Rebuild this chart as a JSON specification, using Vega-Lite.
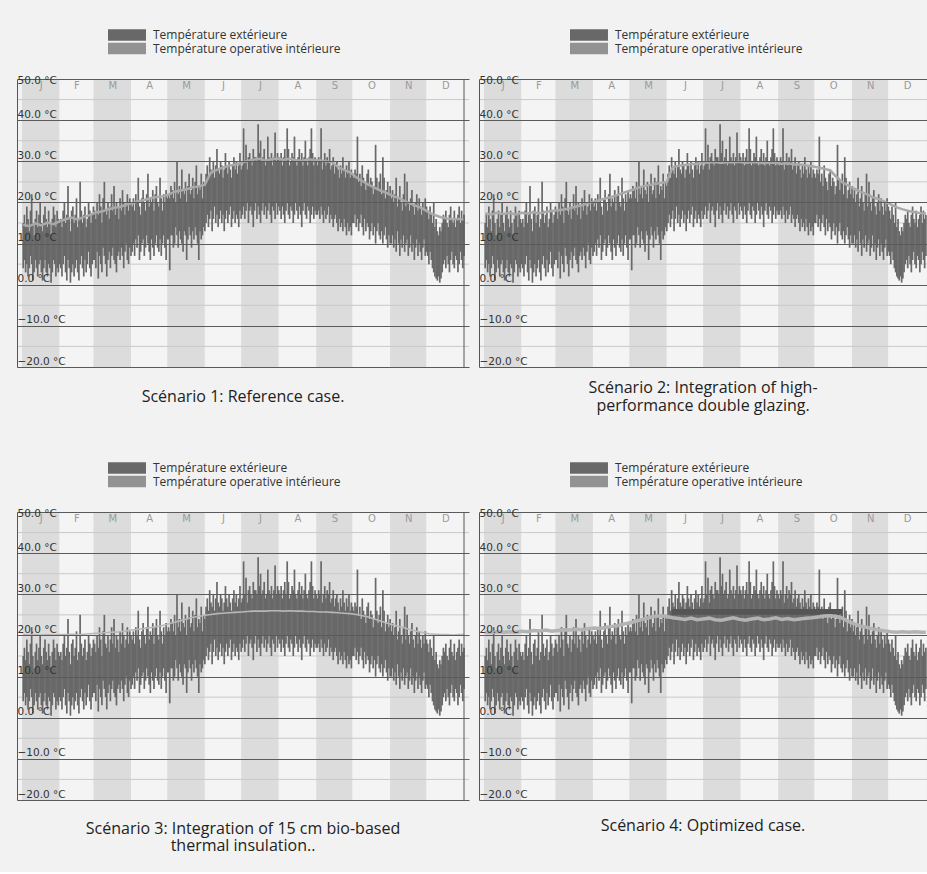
{
"$schema":"https://vega.github.io/schema/vega-lite/v6.json",
"background":"#f2f2f2",
"padding":{"left":16,"top":29,"right":0,"bottom":18},
"config":{"view":{"stroke":null},"title":{"font":"Open Sans","fontSize":16,"fontWeight":"normal","color":"#222222","anchor":"middle","lineHeight":17.5}},
"datasets":{
"months":[{"m":1,"s":0,"e":31},{"m":2,"s":31,"e":59},{"m":3,"s":59,"e":90},{"m":4,"s":90,"e":120},{"m":5,"s":120,"e":151},{"m":6,"s":151,"e":181},{"m":7,"s":181,"e":212},{"m":8,"s":212,"e":243},{"m":9,"s":243,"e":273},{"m":10,"s":273,"e":304},{"m":11,"s":304,"e":334},{"m":12,"s":334,"e":365}],
"minor":[{"t":-15},{"t":-5},{"t":5},{"t":15},{"t":25},{"t":35},{"t":45}],
"edge":[{"d":365}],
"band4":[{"a":155,"b":296,"lo":25.0,"hi":26.4}],
"ext":[
{"d":1,"lo":4,"hi":15},{"d":2,"lo":6,"hi":17},{"d":3,"lo":3,"hi":14},{"d":4,"lo":5,"hi":19},{"d":5,"lo":2,"hi":16},{"d":6,"lo":4,"hi":13},{"d":7,"lo":7,"hi":18},{"d":8,"lo":5,"hi":22},{"d":9,"lo":1,"hi":15},{"d":10,"lo":3,"hi":12},
{"d":11,"lo":6,"hi":16},{"d":12,"lo":4,"hi":18},{"d":13,"lo":2,"hi":14},{"d":14,"lo":5,"hi":17},{"d":15,"lo":6,"hi":20},{"d":16,"lo":3,"hi":15},{"d":17,"lo":1,"hi":13},{"d":18,"lo":4,"hi":17},{"d":19,"lo":6,"hi":19},{"d":20,"lo":3,"hi":16},
{"d":21,"lo":2,"hi":14},{"d":22,"lo":5,"hi":18},{"d":23,"lo":4,"hi":15},{"d":24,"lo":0.5,"hi":12},{"d":25,"lo":3,"hi":16},{"d":26,"lo":6,"hi":19},{"d":27,"lo":5,"hi":17},{"d":28,"lo":2,"hi":14},{"d":29,"lo":4,"hi":18},{"d":30,"lo":3,"hi":16},{"d":31,"lo":5,"hi":15},
{"d":32,"lo":4,"hi":16},{"d":33,"lo":2,"hi":14},{"d":34,"lo":5,"hi":18},{"d":35,"lo":7,"hi":20},{"d":36,"lo":3,"hi":15},{"d":37,"lo":1,"hi":17},{"d":38,"lo":6,"hi":24},{"d":39,"lo":4,"hi":16},{"d":40,"lo":0.5,"hi":13},{"d":41,"lo":3,"hi":18},
{"d":42,"lo":5,"hi":19},{"d":43,"lo":2,"hi":15},{"d":44,"lo":4,"hi":17},{"d":45,"lo":6,"hi":21},{"d":46,"lo":3,"hi":14},{"d":47,"lo":1,"hi":16},{"d":48,"lo":5,"hi":25},{"d":49,"lo":7,"hi":18},{"d":50,"lo":4,"hi":15},{"d":51,"lo":2,"hi":17},
{"d":52,"lo":6,"hi":19},{"d":53,"lo":3,"hi":14},{"d":54,"lo":5,"hi":16},{"d":55,"lo":8,"hi":20},{"d":56,"lo":4,"hi":18},{"d":57,"lo":2,"hi":15},{"d":58,"lo":5,"hi":17},{"d":59,"lo":6,"hi":19},
{"d":60,"lo":6,"hi":18},{"d":61,"lo":4,"hi":16},{"d":62,"lo":8,"hi":20},{"d":63,"lo":1.5,"hi":17},{"d":64,"lo":7,"hi":22},{"d":65,"lo":5,"hi":19},{"d":66,"lo":3,"hi":15},{"d":67,"lo":9,"hi":21},{"d":68,"lo":7,"hi":25},{"d":69,"lo":5,"hi":18},
{"d":70,"lo":2,"hi":17},{"d":71,"lo":6,"hi":20},{"d":72,"lo":8,"hi":16},{"d":73,"lo":4,"hi":19},{"d":74,"lo":7,"hi":22},{"d":75,"lo":9,"hi":18},{"d":76,"lo":6,"hi":24},{"d":77,"lo":5,"hi":17},{"d":78,"lo":3,"hi":20},{"d":79,"lo":7,"hi":19},
{"d":80,"lo":8,"hi":16},{"d":81,"lo":6,"hi":21},{"d":82,"lo":9,"hi":18},{"d":83,"lo":7,"hi":23},{"d":84,"lo":4,"hi":20},{"d":85,"lo":8,"hi":17},{"d":86,"lo":10,"hi":19},{"d":87,"lo":6,"hi":22},{"d":88,"lo":5,"hi":18},{"d":89,"lo":9,"hi":21},{"d":90,"lo":7,"hi":20},
{"d":91,"lo":8,"hi":19},{"d":92,"lo":10,"hi":21},{"d":93,"lo":7,"hi":18},{"d":94,"lo":11,"hi":22},{"d":95,"lo":9,"hi":20},{"d":96,"lo":12,"hi":26},{"d":97,"lo":6,"hi":19},{"d":98,"lo":8,"hi":17},{"d":99,"lo":10,"hi":21},{"d":100,"lo":11,"hi":23},
{"d":101,"lo":7,"hi":20},{"d":102,"lo":9,"hi":18},{"d":103,"lo":12,"hi":22},{"d":104,"lo":10,"hi":27},{"d":105,"lo":8,"hi":19},{"d":106,"lo":6,"hi":21},{"d":107,"lo":11,"hi":20},{"d":108,"lo":9,"hi":23},{"d":109,"lo":7,"hi":18},{"d":110,"lo":10,"hi":22},
{"d":111,"lo":12,"hi":24},{"d":112,"lo":9,"hi":20},{"d":113,"lo":8,"hi":19},{"d":114,"lo":11,"hi":26},{"d":115,"lo":7,"hi":21},{"d":116,"lo":10,"hi":18},{"d":117,"lo":12,"hi":22},{"d":118,"lo":9,"hi":20},{"d":119,"lo":6,"hi":23},{"d":120,"lo":11,"hi":21},
{"d":121,"lo":11,"hi":22},{"d":122,"lo":3.5,"hi":21},{"d":123,"lo":12,"hi":24},{"d":124,"lo":12,"hi":23},{"d":125,"lo":9,"hi":21},{"d":126,"lo":10,"hi":25},{"d":127,"lo":14,"hi":20},{"d":128,"lo":12,"hi":30},{"d":129,"lo":9,"hi":22},{"d":130,"lo":13,"hi":24},
{"d":131,"lo":11,"hi":21},{"d":132,"lo":10,"hi":28},{"d":133,"lo":8,"hi":23},{"d":134,"lo":13,"hi":22},{"d":135,"lo":12,"hi":25},{"d":136,"lo":6,"hi":20},{"d":137,"lo":11,"hi":24},{"d":138,"lo":14,"hi":27},{"d":139,"lo":12,"hi":22},{"d":140,"lo":9,"hi":23},
{"d":141,"lo":13,"hi":26},{"d":142,"lo":11,"hi":21},{"d":143,"lo":14,"hi":25},{"d":144,"lo":12,"hi":29},{"d":145,"lo":10,"hi":22},{"d":146,"lo":6,"hi":24},{"d":147,"lo":13,"hi":23},{"d":148,"lo":11,"hi":27},{"d":149,"lo":12,"hi":21},{"d":150,"lo":14,"hi":25},{"d":151,"lo":13,"hi":24},
{"d":152,"lo":15,"hi":27},{"d":153,"lo":17,"hi":29},{"d":154,"lo":14,"hi":26},{"d":155,"lo":16,"hi":31},{"d":156,"lo":18,"hi":28},{"d":157,"lo":13,"hi":27},{"d":158,"lo":16,"hi":30},{"d":159,"lo":19,"hi":26},{"d":160,"lo":15,"hi":29},{"d":161,"lo":17,"hi":33},
{"d":162,"lo":14,"hi":28},{"d":163,"lo":16,"hi":27},{"d":164,"lo":18,"hi":30},{"d":165,"lo":15,"hi":29},{"d":166,"lo":17,"hi":26},{"d":167,"lo":13,"hi":28},{"d":168,"lo":16,"hi":32},{"d":169,"lo":18,"hi":29},{"d":170,"lo":15,"hi":27},{"d":171,"lo":17,"hi":30},
{"d":172,"lo":19,"hi":28},{"d":173,"lo":14,"hi":26},{"d":174,"lo":16,"hi":29},{"d":175,"lo":18,"hi":31},{"d":176,"lo":15,"hi":28},{"d":177,"lo":17,"hi":30},{"d":178,"lo":16,"hi":27},{"d":179,"lo":14,"hi":29},{"d":180,"lo":18,"hi":32},{"d":181,"lo":16,"hi":28},
{"d":182,"lo":17,"hi":29},{"d":183,"lo":19,"hi":38},{"d":184,"lo":16,"hi":30},{"d":185,"lo":18,"hi":34},{"d":186,"lo":20,"hi":28},{"d":187,"lo":15,"hi":31},{"d":188,"lo":18,"hi":32},{"d":189,"lo":19,"hi":30},{"d":190,"lo":17,"hi":29},{"d":191,"lo":14,"hi":33},
{"d":192,"lo":18,"hi":31},{"d":193,"lo":20,"hi":31},{"d":194,"lo":16,"hi":30},{"d":195,"lo":19,"hi":39},{"d":196,"lo":17,"hi":32},{"d":197,"lo":15,"hi":35},{"d":198,"lo":18,"hi":30},{"d":199,"lo":20,"hi":31},{"d":200,"lo":17,"hi":33},{"d":201,"lo":19,"hi":29},
{"d":202,"lo":16,"hi":30},{"d":203,"lo":18,"hi":36},{"d":204,"lo":20,"hi":31},{"d":205,"lo":17,"hi":30},{"d":206,"lo":15,"hi":32},{"d":207,"lo":19,"hi":29},{"d":208,"lo":18,"hi":31},{"d":209,"lo":16,"hi":37},{"d":210,"lo":20,"hi":30},{"d":211,"lo":17,"hi":32},{"d":212,"lo":19,"hi":31},
{"d":213,"lo":18,"hi":30},{"d":214,"lo":16,"hi":32},{"d":215,"lo":19,"hi":29},{"d":216,"lo":17,"hi":31},{"d":217,"lo":15,"hi":33},{"d":218,"lo":18,"hi":30},{"d":219,"lo":20,"hi":38},{"d":220,"lo":17,"hi":33},{"d":221,"lo":16,"hi":29},{"d":222,"lo":19,"hi":30},
{"d":223,"lo":18,"hi":32},{"d":224,"lo":15,"hi":31},{"d":225,"lo":17,"hi":36},{"d":226,"lo":20,"hi":30},{"d":227,"lo":18,"hi":29},{"d":228,"lo":16,"hi":31},{"d":229,"lo":19,"hi":33},{"d":230,"lo":17,"hi":30},{"d":231,"lo":14,"hi":32},{"d":232,"lo":18,"hi":29},
{"d":233,"lo":20,"hi":31},{"d":234,"lo":17,"hi":35},{"d":235,"lo":16,"hi":30},{"d":236,"lo":19,"hi":29},{"d":237,"lo":18,"hi":31},{"d":238,"lo":15,"hi":33},{"d":239,"lo":17,"hi":38},{"d":240,"lo":19,"hi":32},{"d":241,"lo":16,"hi":29},{"d":242,"lo":18,"hi":31},{"d":243,"lo":17,"hi":30},
{"d":244,"lo":17,"hi":29},{"d":245,"lo":18,"hi":31},{"d":246,"lo":16,"hi":30},{"d":247,"lo":19,"hi":38},{"d":248,"lo":17,"hi":28},{"d":249,"lo":15,"hi":30},{"d":250,"lo":18,"hi":32},{"d":251,"lo":16,"hi":29},{"d":252,"lo":17,"hi":31},{"d":253,"lo":19,"hi":30},
{"d":254,"lo":15,"hi":33},{"d":255,"lo":17,"hi":28},{"d":256,"lo":16,"hi":29},{"d":257,"lo":14,"hi":31},{"d":258,"lo":16,"hi":27},{"d":259,"lo":17,"hi":29},{"d":260,"lo":15,"hi":30},{"d":261,"lo":13,"hi":28},{"d":262,"lo":16,"hi":26},{"d":263,"lo":14,"hi":29},
{"d":264,"lo":15,"hi":27},{"d":265,"lo":13,"hi":31},{"d":266,"lo":16,"hi":28},{"d":267,"lo":14,"hi":26},{"d":268,"lo":12,"hi":29},{"d":269,"lo":15,"hi":27},{"d":270,"lo":13,"hi":30},{"d":271,"lo":14,"hi":26},{"d":272,"lo":12,"hi":28},{"d":273,"lo":15,"hi":27},
{"d":274,"lo":15,"hi":26},{"d":275,"lo":17,"hi":28},{"d":276,"lo":14,"hi":27},{"d":277,"lo":16,"hi":36},{"d":278,"lo":13,"hi":25},{"d":279,"lo":15,"hi":27},{"d":280,"lo":17,"hi":24},{"d":281,"lo":14,"hi":29},{"d":282,"lo":12,"hi":26},{"d":283,"lo":16,"hi":25},
{"d":284,"lo":13,"hi":23},{"d":285,"lo":15,"hi":27},{"d":286,"lo":14,"hi":28},{"d":287,"lo":11,"hi":24},{"d":288,"lo":13,"hi":26},{"d":289,"lo":15,"hi":25},{"d":290,"lo":12,"hi":22},{"d":291,"lo":14,"hi":24},{"d":292,"lo":10,"hi":34},{"d":293,"lo":13,"hi":26},
{"d":294,"lo":15,"hi":23},{"d":295,"lo":12,"hi":25},{"d":296,"lo":11,"hi":27},{"d":297,"lo":13,"hi":22},{"d":298,"lo":10,"hi":31},{"d":299,"lo":12,"hi":26},{"d":300,"lo":14,"hi":21},{"d":301,"lo":11,"hi":23},{"d":302,"lo":9,"hi":25},{"d":303,"lo":12,"hi":22},{"d":304,"lo":10,"hi":24},
{"d":305,"lo":10,"hi":21},{"d":306,"lo":12,"hi":23},{"d":307,"lo":9,"hi":20},{"d":308,"lo":11,"hi":22},{"d":309,"lo":8,"hi":26},{"d":310,"lo":13,"hi":19},{"d":311,"lo":10,"hi":21},{"d":312,"lo":7,"hi":24},{"d":313,"lo":11,"hi":20},{"d":314,"lo":9,"hi":18},
{"d":315,"lo":12,"hi":22},{"d":316,"lo":8,"hi":27},{"d":317,"lo":10,"hi":19},{"d":318,"lo":11,"hi":25},{"d":319,"lo":7,"hi":20},{"d":320,"lo":9,"hi":18},{"d":321,"lo":12,"hi":21},{"d":322,"lo":8,"hi":23},{"d":323,"lo":10,"hi":19},{"d":324,"lo":6,"hi":17},
{"d":325,"lo":9,"hi":20},{"d":326,"lo":11,"hi":22},{"d":327,"lo":7,"hi":18},{"d":328,"lo":10,"hi":21},{"d":329,"lo":8,"hi":19},{"d":330,"lo":6,"hi":17},{"d":331,"lo":9,"hi":20},{"d":332,"lo":11,"hi":18},{"d":333,"lo":7,"hi":21},{"d":334,"lo":8,"hi":19},
{"d":335,"lo":7,"hi":18},{"d":336,"lo":5,"hi":16},{"d":337,"lo":8,"hi":19},{"d":338,"lo":6,"hi":17},{"d":339,"lo":4,"hi":15},{"d":340,"lo":3,"hi":20},{"d":341,"lo":2,"hi":14},{"d":342,"lo":1.5,"hi":16},{"d":343,"lo":1,"hi":13},{"d":344,"lo":2,"hi":12},
{"d":345,"lo":0.5,"hi":14},{"d":346,"lo":1.5,"hi":13},{"d":347,"lo":3,"hi":15},{"d":348,"lo":5,"hi":17},{"d":349,"lo":6,"hi":16},{"d":350,"lo":4,"hi":18},{"d":351,"lo":7,"hi":15},{"d":352,"lo":5,"hi":14},{"d":353,"lo":3,"hi":17},{"d":354,"lo":6,"hi":19},
{"d":355,"lo":8,"hi":16},{"d":356,"lo":5,"hi":15},{"d":357,"lo":4,"hi":18},{"d":358,"lo":7,"hi":14},{"d":359,"lo":6,"hi":16},{"d":360,"lo":3,"hi":17},{"d":361,"lo":5,"hi":19},{"d":362,"lo":8,"hi":15},{"d":363,"lo":6,"hi":18},{"d":364,"lo":4,"hi":16},{"d":365,"lo":7,"hi":17}
],
"int":[
{"s":1,"d":1,"t":14.6},{"s":1,"d":6,"t":14.2},{"s":1,"d":11,"t":14.9},{"s":1,"d":16,"t":14.4},{"s":1,"d":21,"t":15.1},{"s":1,"d":26,"t":14.7},{"s":1,"d":31,"t":15.4},{"s":1,"d":36,"t":15.9},{"s":1,"d":41,"t":16.3},{"s":1,"d":46,"t":15.8},{"s":1,"d":51,"t":16.5},{"s":1,"d":56,"t":16.9},{"s":1,"d":61,"t":17.6},{"s":1,"d":66,"t":17.8},{"s":1,"d":71,"t":18.3},{"s":1,"d":76,"t":18.7},{"s":1,"d":81,"t":18.9},{"s":1,"d":86,"t":19.5},{"s":1,"d":91,"t":19.8},{"s":1,"d":96,"t":20.3},{"s":1,"d":101,"t":20.6},{"s":1,"d":106,"t":21.0},{"s":1,"d":111,"t":21.3},{"s":1,"d":116,"t":21.5},{"s":1,"d":121,"t":21.9},{"s":1,"d":126,"t":22.6},{"s":1,"d":131,"t":22.9},{"s":1,"d":136,"t":23.2},{"s":1,"d":141,"t":23.7},{"s":1,"d":146,"t":23.9},{"s":1,"d":151,"t":24.3},{"s":1,"d":156,"t":27.3},{"s":1,"d":161,"t":27.9},{"s":1,"d":166,"t":28.5},{"s":1,"d":171,"t":28.9},{"s":1,"d":176,"t":29.2},{"s":1,"d":181,"t":29.6},{"s":1,"d":186,"t":30.1},{"s":1,"d":191,"t":30.4},{"s":1,"d":196,"t":30.6},{"s":1,"d":201,"t":30.2},{"s":1,"d":206,"t":30.5},{"s":1,"d":211,"t":30.7},{"s":1,"d":216,"t":30.4},{"s":1,"d":221,"t":30.6},{"s":1,"d":226,"t":30.3},{"s":1,"d":231,"t":30.1},{"s":1,"d":236,"t":30.5},{"s":1,"d":241,"t":30.3},{"s":1,"d":246,"t":30.2},{"s":1,"d":251,"t":30.0},{"s":1,"d":256,"t":29.8},{"s":1,"d":261,"t":28.6},{"s":1,"d":266,"t":27.9},{"s":1,"d":271,"t":27.3},{"s":1,"d":276,"t":26.1},{"s":1,"d":281,"t":25.2},{"s":1,"d":286,"t":24.3},{"s":1,"d":291,"t":23.6},{"s":1,"d":296,"t":22.9},{"s":1,"d":301,"t":22.3},{"s":1,"d":306,"t":21.6},{"s":1,"d":311,"t":21.1},{"s":1,"d":316,"t":20.3},{"s":1,"d":321,"t":19.7},{"s":1,"d":326,"t":19.1},{"s":1,"d":331,"t":18.5},{"s":1,"d":336,"t":17.6},{"s":1,"d":341,"t":16.9},{"s":1,"d":346,"t":16.4},{"s":1,"d":351,"t":16.1},{"s":1,"d":356,"t":15.9},{"s":1,"d":361,"t":16.0},{"s":1,"d":365,"t":15.8},
{"s":2,"d":1,"t":17.3},{"s":2,"d":6,"t":17.1},{"s":2,"d":11,"t":17.5},{"s":2,"d":16,"t":17.2},{"s":2,"d":21,"t":17.4},{"s":2,"d":26,"t":17.1},{"s":2,"d":31,"t":17.5},{"s":2,"d":36,"t":17.3},{"s":2,"d":41,"t":17.6},{"s":2,"d":46,"t":17.4},{"s":2,"d":51,"t":17.7},{"s":2,"d":56,"t":17.9},{"s":2,"d":61,"t":18.1},{"s":2,"d":66,"t":18.3},{"s":2,"d":71,"t":18.6},{"s":2,"d":76,"t":19.0},{"s":2,"d":81,"t":19.3},{"s":2,"d":86,"t":19.8},{"s":2,"d":91,"t":20.2},{"s":2,"d":96,"t":20.6},{"s":2,"d":101,"t":21.0},{"s":2,"d":106,"t":21.4},{"s":2,"d":111,"t":21.9},{"s":2,"d":116,"t":22.4},{"s":2,"d":121,"t":22.9},{"s":2,"d":126,"t":23.4},{"s":2,"d":131,"t":23.9},{"s":2,"d":136,"t":24.2},{"s":2,"d":141,"t":24.5},{"s":2,"d":146,"t":24.7},{"s":2,"d":151,"t":25.0},{"s":2,"d":156,"t":28.6},{"s":2,"d":161,"t":28.9},{"s":2,"d":166,"t":29.1},{"s":2,"d":171,"t":29.3},{"s":2,"d":176,"t":29.4},{"s":2,"d":181,"t":29.6},{"s":2,"d":186,"t":29.7},{"s":2,"d":191,"t":29.8},{"s":2,"d":196,"t":29.6},{"s":2,"d":201,"t":29.8},{"s":2,"d":206,"t":29.7},{"s":2,"d":211,"t":29.9},{"s":2,"d":216,"t":29.6},{"s":2,"d":221,"t":29.8},{"s":2,"d":226,"t":29.7},{"s":2,"d":231,"t":29.5},{"s":2,"d":236,"t":29.7},{"s":2,"d":241,"t":29.6},{"s":2,"d":246,"t":29.4},{"s":2,"d":251,"t":29.5},{"s":2,"d":256,"t":29.3},{"s":2,"d":261,"t":29.2},{"s":2,"d":266,"t":29.0},{"s":2,"d":271,"t":28.8},{"s":2,"d":276,"t":28.5},{"s":2,"d":281,"t":28.2},{"s":2,"d":286,"t":27.8},{"s":2,"d":291,"t":26.2},{"s":2,"d":296,"t":24.9},{"s":2,"d":301,"t":24.1},{"s":2,"d":306,"t":23.3},{"s":2,"d":311,"t":22.6},{"s":2,"d":316,"t":22.0},{"s":2,"d":321,"t":21.3},{"s":2,"d":326,"t":20.8},{"s":2,"d":331,"t":20.2},{"s":2,"d":336,"t":19.5},{"s":2,"d":341,"t":18.8},{"s":2,"d":346,"t":18.3},{"s":2,"d":351,"t":17.9},{"s":2,"d":356,"t":17.6},{"s":2,"d":361,"t":17.4},{"s":2,"d":365,"t":17.3},
{"s":3,"d":1,"t":20.2},{"s":3,"d":6,"t":20.1},{"s":3,"d":11,"t":20.2},{"s":3,"d":16,"t":20.1},{"s":3,"d":21,"t":20.2},{"s":3,"d":26,"t":20.1},{"s":3,"d":31,"t":20.2},{"s":3,"d":36,"t":20.2},{"s":3,"d":41,"t":20.3},{"s":3,"d":46,"t":20.2},{"s":3,"d":51,"t":20.3},{"s":3,"d":56,"t":20.4},{"s":3,"d":61,"t":20.5},{"s":3,"d":66,"t":20.6},{"s":3,"d":71,"t":20.7},{"s":3,"d":76,"t":20.8},{"s":3,"d":81,"t":20.9},{"s":3,"d":86,"t":21.1},{"s":3,"d":91,"t":21.3},{"s":3,"d":96,"t":21.5},{"s":3,"d":101,"t":21.7},{"s":3,"d":106,"t":21.9},{"s":3,"d":111,"t":22.1},{"s":3,"d":116,"t":22.4},{"s":3,"d":121,"t":22.8},{"s":3,"d":126,"t":23.2},{"s":3,"d":131,"t":23.6},{"s":3,"d":136,"t":24.0},{"s":3,"d":141,"t":24.4},{"s":3,"d":146,"t":24.6},{"s":3,"d":151,"t":24.9},{"s":3,"d":156,"t":25.1},{"s":3,"d":161,"t":25.3},{"s":3,"d":166,"t":25.4},{"s":3,"d":171,"t":25.5},{"s":3,"d":176,"t":25.6},{"s":3,"d":181,"t":25.7},{"s":3,"d":186,"t":25.8},{"s":3,"d":191,"t":25.9},{"s":3,"d":196,"t":25.9},{"s":3,"d":201,"t":25.9},{"s":3,"d":206,"t":26.0},{"s":3,"d":211,"t":26.0},{"s":3,"d":216,"t":25.9},{"s":3,"d":221,"t":26.0},{"s":3,"d":226,"t":25.9},{"s":3,"d":231,"t":25.9},{"s":3,"d":236,"t":25.8},{"s":3,"d":241,"t":25.8},{"s":3,"d":246,"t":25.7},{"s":3,"d":251,"t":25.7},{"s":3,"d":256,"t":25.6},{"s":3,"d":261,"t":25.5},{"s":3,"d":266,"t":25.4},{"s":3,"d":271,"t":25.3},{"s":3,"d":276,"t":25.1},{"s":3,"d":281,"t":24.8},{"s":3,"d":286,"t":24.5},{"s":3,"d":291,"t":24.0},{"s":3,"d":296,"t":23.5},{"s":3,"d":301,"t":23.0},{"s":3,"d":306,"t":22.6},{"s":3,"d":311,"t":22.2},{"s":3,"d":316,"t":21.8},{"s":3,"d":321,"t":21.4},{"s":3,"d":326,"t":21.0},{"s":3,"d":331,"t":20.7},{"s":3,"d":336,"t":20.4},{"s":3,"d":341,"t":20.3},{"s":3,"d":346,"t":20.2},{"s":3,"d":351,"t":20.2},{"s":3,"d":356,"t":20.1},{"s":3,"d":361,"t":20.2},{"s":3,"d":365,"t":20.2},
{"s":4,"d":1,"t":20.8},{"s":4,"d":6,"t":20.7},{"s":4,"d":11,"t":20.9},{"s":4,"d":16,"t":20.8},{"s":4,"d":21,"t":20.9},{"s":4,"d":26,"t":20.8},{"s":4,"d":31,"t":21.0},{"s":4,"d":36,"t":20.9},{"s":4,"d":41,"t":21.2},{"s":4,"d":46,"t":21.1},{"s":4,"d":51,"t":21.3},{"s":4,"d":56,"t":21.0},{"s":4,"d":61,"t":21.2},{"s":4,"d":66,"t":21.4},{"s":4,"d":71,"t":21.3},{"s":4,"d":76,"t":21.5},{"s":4,"d":81,"t":21.4},{"s":4,"d":86,"t":21.6},{"s":4,"d":91,"t":21.8},{"s":4,"d":96,"t":21.7},{"s":4,"d":101,"t":22.0},{"s":4,"d":106,"t":22.2},{"s":4,"d":111,"t":22.4},{"s":4,"d":116,"t":22.8},{"s":4,"d":121,"t":23.1},{"s":4,"d":126,"t":23.5},{"s":4,"d":131,"t":23.9},{"s":4,"d":136,"t":24.3},{"s":4,"d":141,"t":24.6},{"s":4,"d":146,"t":24.8},{"s":4,"d":151,"t":24.6},{"s":4,"d":156,"t":24.3},{"s":4,"d":161,"t":24.1},{"s":4,"d":166,"t":23.9},{"s":4,"d":171,"t":24.2},{"s":4,"d":176,"t":23.8},{"s":4,"d":181,"t":24.0},{"s":4,"d":186,"t":24.2},{"s":4,"d":191,"t":23.8},{"s":4,"d":196,"t":23.7},{"s":4,"d":201,"t":24.0},{"s":4,"d":206,"t":24.3},{"s":4,"d":211,"t":23.9},{"s":4,"d":216,"t":23.7},{"s":4,"d":221,"t":24.0},{"s":4,"d":226,"t":24.2},{"s":4,"d":231,"t":23.8},{"s":4,"d":236,"t":24.0},{"s":4,"d":241,"t":24.3},{"s":4,"d":246,"t":23.9},{"s":4,"d":251,"t":24.1},{"s":4,"d":256,"t":23.8},{"s":4,"d":261,"t":24.0},{"s":4,"d":266,"t":24.2},{"s":4,"d":271,"t":24.3},{"s":4,"d":276,"t":24.5},{"s":4,"d":281,"t":24.7},{"s":4,"d":286,"t":24.8},{"s":4,"d":291,"t":24.6},{"s":4,"d":296,"t":24.2},{"s":4,"d":301,"t":23.4},{"s":4,"d":306,"t":22.8},{"s":4,"d":311,"t":22.3},{"s":4,"d":316,"t":22.0},{"s":4,"d":321,"t":21.6},{"s":4,"d":326,"t":21.3},{"s":4,"d":331,"t":21.1},{"s":4,"d":336,"t":20.9},{"s":4,"d":341,"t":20.8},{"s":4,"d":346,"t":20.9},{"s":4,"d":351,"t":20.8},{"s":4,"d":356,"t":20.9},{"s":4,"d":361,"t":20.8},{"s":4,"d":365,"t":20.8}
]
},
"columns":2,
"spacing":{"row":145,"column":10},
"bounds":"flush",
"resolve":{"scale":{"color":"independent","fill":"independent"},"legend":{"color":"independent"}},
"concat":[
{"width":452,"height":288,
 "title":{"text":"Scénario 1: Reference case.","orient":"bottom","offset":21},
 "layer":[
  {"data":{"name":"months"},"mark":{"type":"rect","clip":true},
   "encoding":{"x":{"field":"s","type":"quantitative","scale":{"domain":[0,365],"nice":false,"zero":false},
     "axis":{"orient":"top","title":null,"values":[15.5,45,74.5,105,135.5,166,196.5,227.5,258,288.5,319,349.5],"labelExpr":"['J','F','M','A','M','J','J','A','S','O','N','D'][floor(datum.value/30.5)]","ticks":false,"tickSize":0,"domain":false,"grid":false,"labelFlush":false,"labelPadding":-6.5,"labelBaseline":"middle","labelFont":"DejaVu Sans","labelFontSize":10,"labelColor":"#9a9a9a","zindex":1}},
    "x2":{"field":"e"},
    "fill":{"field":"m","type":"ordinal","scale":{"domain":[1,2,3,4,5,6,7,8,9,10,11,12],"range":["#dcdcdc","#f4f4f4","#dcdcdc","#f4f4f4","#dcdcdc","#f4f4f4","#dcdcdc","#f4f4f4","#dcdcdc","#f4f4f4","#dcdcdc","#f4f4f4"]},"legend":null}}},
  {"data":{"name":"minor"},"mark":{"type":"rule","color":"#c9c9c9","strokeWidth":1},
   "encoding":{"y":{"field":"t","type":"quantitative","scale":{"domain":[-20,50],"nice":false,"zero":false},
     "axis":{"title":null,"orient":"left","values":[-20,-10,0,10,20,30,40,50],"labelExpr":"format(datum.value,'.1f') + ' °C'","ticks":false,"tickSize":0,"domain":true,"domainColor":"#555555","grid":true,"gridColor":"#5a5a5a","gridWidth":1,"labelFlush":false,"labelAlign":"left","labelPadding":0,"labelBaseline":{"condition":{"test":"datum.value == 50","value":"top"},"value":"alphabetic"},"labelOffset":{"condition":{"test":"datum.value == 50","value":-4},"value":-3},"labelFont":"DejaVu Sans","labelFontSize":10.5,"labelColor":"#333333","zindex":1}}}},
  {"data":{"name":"ext"},"mark":{"type":"bar","width":1.7,"clip":true},
   "encoding":{"x":{"field":"d","type":"quantitative"},"y":{"field":"lo","type":"quantitative"},"y2":{"field":"hi"},
    "color":{"datum":"Température extérieure","scale":{"domain":["Température extérieure","Température operative intérieure"],"range":["#686868","#929292"]},
     "legend":{"orient":"none","legendX":91,"legendY":-50,"direction":"vertical","title":null,"symbolType":"M-1,-0.96H5.33V0.96H-1Z","symbolSize":144,"symbolStrokeWidth":0,"labelOffset":33,"rowPadding":1.5,"labelFont":"Open Sans","labelFontSize":12,"labelColor":"#333333","labelLimit":400,"padding":0}}}},
  {"data":{"name":"int"},"transform":[{"filter":"datum.s == 1"}],"mark":{"type":"line","color":"#a9a9a9","strokeWidth":2.5},
   "encoding":{"x":{"field":"d","type":"quantitative"},"y":{"field":"t","type":"quantitative"}}},
  {"data":{"name":"edge"},"mark":{"type":"rule","color":"#555555","strokeWidth":1},
   "encoding":{"x":{"field":"d","type":"quantitative"}}}
 ]},
{"width":448,"height":288,
 "title":{"text":["Scénario 2: Integration of high-","performance double glazing."],"orient":"bottom","offset":13},
 "layer":[
  {"data":{"name":"months"},"mark":{"type":"rect","clip":true},
   "encoding":{"x":{"field":"s","type":"quantitative","scale":{"domain":[0,361.8],"nice":false,"zero":false},
     "axis":{"orient":"top","title":null,"values":[15.5,45,74.5,105,135.5,166,196.5,227.5,258,288.5,319,349.5],"labelExpr":"['J','F','M','A','M','J','J','A','S','O','N','D'][floor(datum.value/30.5)]","ticks":false,"tickSize":0,"domain":false,"grid":false,"labelFlush":false,"labelPadding":-6.5,"labelBaseline":"middle","labelFont":"DejaVu Sans","labelFontSize":10,"labelColor":"#9a9a9a","zindex":1}},
    "x2":{"field":"e"},
    "fill":{"field":"m","type":"ordinal","scale":{"domain":[1,2,3,4,5,6,7,8,9,10,11,12],"range":["#dcdcdc","#f4f4f4","#dcdcdc","#f4f4f4","#dcdcdc","#f4f4f4","#dcdcdc","#f4f4f4","#dcdcdc","#f4f4f4","#dcdcdc","#f4f4f4"]},"legend":null}}},
  {"data":{"name":"minor"},"mark":{"type":"rule","color":"#c9c9c9","strokeWidth":1},
   "encoding":{"y":{"field":"t","type":"quantitative","scale":{"domain":[-20,50],"nice":false,"zero":false},
     "axis":{"title":null,"orient":"left","values":[-20,-10,0,10,20,30,40,50],"labelExpr":"format(datum.value,'.1f') + ' °C'","ticks":false,"tickSize":0,"domain":true,"domainColor":"#555555","grid":true,"gridColor":"#5a5a5a","gridWidth":1,"labelFlush":false,"labelAlign":"left","labelPadding":0,"labelBaseline":{"condition":{"test":"datum.value == 50","value":"top"},"value":"alphabetic"},"labelOffset":{"condition":{"test":"datum.value == 50","value":-4},"value":-3},"labelFont":"DejaVu Sans","labelFontSize":10.5,"labelColor":"#333333","zindex":1}}}},
  {"data":{"name":"ext"},"mark":{"type":"bar","width":1.7,"clip":true},
   "encoding":{"x":{"field":"d","type":"quantitative"},"y":{"field":"lo","type":"quantitative"},"y2":{"field":"hi"},
    "color":{"datum":"Température extérieure","scale":{"domain":["Température extérieure","Température operative intérieure"],"range":["#686868","#929292"]},
     "legend":{"orient":"none","legendX":91,"legendY":-50,"direction":"vertical","title":null,"symbolType":"M-1,-0.96H5.33V0.96H-1Z","symbolSize":144,"symbolStrokeWidth":0,"labelOffset":33,"rowPadding":1.5,"labelFont":"Open Sans","labelFontSize":12,"labelColor":"#333333","labelLimit":400,"padding":0}}}},
  {"data":{"name":"int"},"transform":[{"filter":"datum.s == 2"}],"mark":{"type":"line","color":"#a9a9a9","strokeWidth":2.5,"clip":true},
   "encoding":{"x":{"field":"d","type":"quantitative"},"y":{"field":"t","type":"quantitative"}}}
 ]},
{"width":452,"height":288,
 "title":{"text":["Scénario 3: Integration of 15 cm bio-based","thermal insulation.."],"orient":"bottom","offset":20},
 "layer":[
  {"data":{"name":"months"},"mark":{"type":"rect","clip":true},
   "encoding":{"x":{"field":"s","type":"quantitative","scale":{"domain":[0,365],"nice":false,"zero":false},
     "axis":{"orient":"top","title":null,"values":[15.5,45,74.5,105,135.5,166,196.5,227.5,258,288.5,319,349.5],"labelExpr":"['J','F','M','A','M','J','J','A','S','O','N','D'][floor(datum.value/30.5)]","ticks":false,"tickSize":0,"domain":false,"grid":false,"labelFlush":false,"labelPadding":-6.5,"labelBaseline":"middle","labelFont":"DejaVu Sans","labelFontSize":10,"labelColor":"#9a9a9a","zindex":1}},
    "x2":{"field":"e"},
    "fill":{"field":"m","type":"ordinal","scale":{"domain":[1,2,3,4,5,6,7,8,9,10,11,12],"range":["#dcdcdc","#f4f4f4","#dcdcdc","#f4f4f4","#dcdcdc","#f4f4f4","#dcdcdc","#f4f4f4","#dcdcdc","#f4f4f4","#dcdcdc","#f4f4f4"]},"legend":null}}},
  {"data":{"name":"minor"},"mark":{"type":"rule","color":"#c9c9c9","strokeWidth":1},
   "encoding":{"y":{"field":"t","type":"quantitative","scale":{"domain":[-20,50],"nice":false,"zero":false},
     "axis":{"title":null,"orient":"left","values":[-20,-10,0,10,20,30,40,50],"labelExpr":"format(datum.value,'.1f') + ' °C'","ticks":false,"tickSize":0,"domain":true,"domainColor":"#555555","grid":true,"gridColor":"#5a5a5a","gridWidth":1,"labelFlush":false,"labelAlign":"left","labelPadding":0,"labelBaseline":{"condition":{"test":"datum.value == 50","value":"top"},"value":"alphabetic"},"labelOffset":{"condition":{"test":"datum.value == 50","value":-4},"value":-3},"labelFont":"DejaVu Sans","labelFontSize":10.5,"labelColor":"#333333","zindex":1}}}},
  {"data":{"name":"ext"},"mark":{"type":"bar","width":1.7,"clip":true},
   "encoding":{"x":{"field":"d","type":"quantitative"},"y":{"field":"lo","type":"quantitative"},"y2":{"field":"hi"},
    "color":{"datum":"Température extérieure","scale":{"domain":["Température extérieure","Température operative intérieure"],"range":["#686868","#929292"]},
     "legend":{"orient":"none","legendX":91,"legendY":-50,"direction":"vertical","title":null,"symbolType":"M-1,-0.96H5.33V0.96H-1Z","symbolSize":144,"symbolStrokeWidth":0,"labelOffset":33,"rowPadding":1.5,"labelFont":"Open Sans","labelFontSize":12,"labelColor":"#333333","labelLimit":400,"padding":0}}}},
  {"data":{"name":"int"},"transform":[{"filter":"datum.s == 3"}],"mark":{"type":"line","color":"#b8b8b8","strokeWidth":1.6},
   "encoding":{"x":{"field":"d","type":"quantitative"},"y":{"field":"t","type":"quantitative"}}},
  {"data":{"name":"edge"},"mark":{"type":"rule","color":"#555555","strokeWidth":1},
   "encoding":{"x":{"field":"d","type":"quantitative"}}}
 ]},
{"width":448,"height":288,
 "title":{"text":"Scénario 4: Optimized case.","orient":"bottom","offset":18},
 "layer":[
  {"data":{"name":"months"},"mark":{"type":"rect","clip":true},
   "encoding":{"x":{"field":"s","type":"quantitative","scale":{"domain":[0,361.8],"nice":false,"zero":false},
     "axis":{"orient":"top","title":null,"values":[15.5,45,74.5,105,135.5,166,196.5,227.5,258,288.5,319,349.5],"labelExpr":"['J','F','M','A','M','J','J','A','S','O','N','D'][floor(datum.value/30.5)]","ticks":false,"tickSize":0,"domain":false,"grid":false,"labelFlush":false,"labelPadding":-6.5,"labelBaseline":"middle","labelFont":"DejaVu Sans","labelFontSize":10,"labelColor":"#9a9a9a","zindex":1}},
    "x2":{"field":"e"},
    "fill":{"field":"m","type":"ordinal","scale":{"domain":[1,2,3,4,5,6,7,8,9,10,11,12],"range":["#dcdcdc","#f4f4f4","#dcdcdc","#f4f4f4","#dcdcdc","#f4f4f4","#dcdcdc","#f4f4f4","#dcdcdc","#f4f4f4","#dcdcdc","#f4f4f4"]},"legend":null}}},
  {"data":{"name":"minor"},"mark":{"type":"rule","color":"#c9c9c9","strokeWidth":1},
   "encoding":{"y":{"field":"t","type":"quantitative","scale":{"domain":[-20,50],"nice":false,"zero":false},
     "axis":{"title":null,"orient":"left","values":[-20,-10,0,10,20,30,40,50],"labelExpr":"format(datum.value,'.1f') + ' °C'","ticks":false,"tickSize":0,"domain":true,"domainColor":"#555555","grid":true,"gridColor":"#5a5a5a","gridWidth":1,"labelFlush":false,"labelAlign":"left","labelPadding":0,"labelBaseline":{"condition":{"test":"datum.value == 50","value":"top"},"value":"alphabetic"},"labelOffset":{"condition":{"test":"datum.value == 50","value":-4},"value":-3},"labelFont":"DejaVu Sans","labelFontSize":10.5,"labelColor":"#333333","zindex":1}}}},
  {"data":{"name":"ext"},"mark":{"type":"bar","width":1.7,"clip":true},
   "encoding":{"x":{"field":"d","type":"quantitative"},"y":{"field":"lo","type":"quantitative"},"y2":{"field":"hi"},
    "color":{"datum":"Température extérieure","scale":{"domain":["Température extérieure","Température operative intérieure"],"range":["#686868","#929292"]},
     "legend":{"orient":"none","legendX":91,"legendY":-50,"direction":"vertical","title":null,"symbolType":"M-1,-0.96H5.33V0.96H-1Z","symbolSize":144,"symbolStrokeWidth":0,"labelOffset":33,"rowPadding":1.5,"labelFont":"Open Sans","labelFontSize":12,"labelColor":"#333333","labelLimit":400,"padding":0}}}},
  {"data":{"name":"band4"},"mark":{"type":"rect","color":"#555555"},
   "encoding":{"x":{"field":"a","type":"quantitative"},"x2":{"field":"b"},"y":{"field":"lo","type":"quantitative"},"y2":{"field":"hi"}}},
  {"data":{"name":"int"},"transform":[{"filter":"datum.s == 4"}],"mark":{"type":"line","color":"#b3b3b3","strokeWidth":3.5,"clip":true},
   "encoding":{"x":{"field":"d","type":"quantitative"},"y":{"field":"t","type":"quantitative"}}}
 ]}
]
}
